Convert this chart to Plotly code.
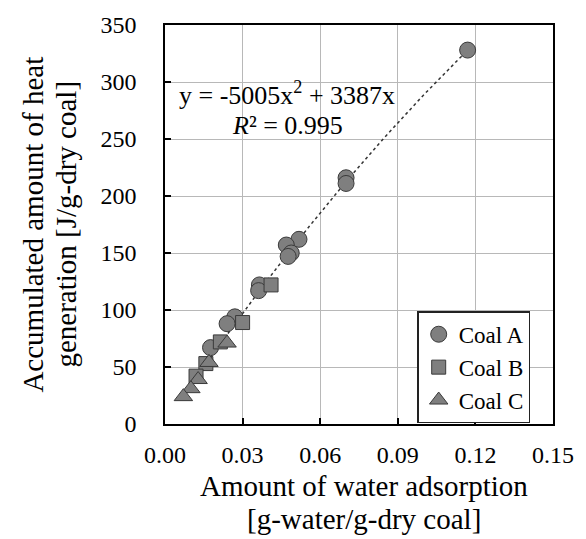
import numpy as np
import plotly.graph_objects as go

# Data
coal_a_x = [0.117, 0.070, 0.070, 0.0518, 0.0469, 0.0488, 0.0476, 0.0365, 0.0362, 0.027, 0.024, 0.0176]
coal_a_y = [328, 216, 211, 162, 157, 150, 147, 122, 117, 94, 88, 67]
coal_b_x = [0.041, 0.030, 0.0214, 0.0158, 0.012]
coal_b_y = [122, 89, 72, 53, 42]
coal_c_x = [0.024, 0.017, 0.0128, 0.010, 0.0071]
coal_c_y = [71, 54, 39, 31, 24]

fit_a2 = -5005
fit_a1 = 3387
fit_r2 = 0.995
fit_xmin, fit_xmax = 0.007, 0.117

x_ticks = [0.00, 0.03, 0.06, 0.09, 0.12, 0.15]
y_ticks = [0, 50, 100, 150, 200, 250, 300, 350]

FONT = "Liberation Serif"
FILL = "#7f7f7f"
EDGE = "#3a3a3a"

fx = np.linspace(fit_xmin, fit_xmax, 100)
fy = fit_a2 * fx**2 + fit_a1 * fx

fig = go.Figure()
fig.add_trace(go.Scatter(x=fx, y=fy, mode="lines", showlegend=False,
                         line=dict(color="#333333", width=1.5, dash="dot"),
                         hoverinfo="skip"))
fig.add_trace(go.Scatter(x=coal_a_x, y=coal_a_y, mode="markers", name="Coal A",
                         marker=dict(symbol="circle", size=16, color=FILL,
                                     line=dict(color=EDGE, width=1))))
fig.add_trace(go.Scatter(x=coal_b_x, y=coal_b_y, mode="markers", name="Coal B",
                         marker=dict(symbol="square", size=14, color=FILL,
                                     line=dict(color=EDGE, width=1))))
fig.add_trace(go.Scatter(x=coal_c_x, y=coal_c_y, mode="markers", name="Coal C",
                         marker=dict(symbol="triangle-up", size=16, color=FILL,
                                     line=dict(color=EDGE, width=1))))

axis_common = dict(showgrid=True, gridcolor="#b8b8b8", gridwidth=1,
                   showline=True, linecolor="black", linewidth=1.5, mirror=True,
                   ticks="inside", ticklen=6, tickcolor="black", tickwidth=1.5,
                   zeroline=False,
                   tickfont=dict(family=FONT, size=24, color="black"))

fig.update_xaxes(range=[0, 0.15], tickvals=x_ticks,
                 ticktext=[f"{v:.2f}" for v in x_ticks],
                 ticklabelstandoff=8, **axis_common)
fig.update_yaxes(range=[0, 350], tickvals=y_ticks,
                 ticktext=[str(v) for v in y_ticks],
                 ticklabelstandoff=22, **axis_common)

ann = []
title_font = dict(family=FONT, size=29, color="black")
ann.append(dict(text="Amount of water adsorption", xref="paper", yref="paper",
                x=(370 - 165) / 400, y=(424 - 486) / 400, xanchor="center", yanchor="middle",
                showarrow=False, font=title_font))
ann.append(dict(text="[g-water/g-dry coal]", xref="paper", yref="paper",
                x=(370 - 165) / 400, y=(424 - 519) / 400, xanchor="center", yanchor="middle",
                showarrow=False, font=title_font))
ann.append(dict(text="Accumulated amount of heat", xref="paper", yref="paper",
                x=(28 - 165) / 400, y=0.5, xanchor="center", yanchor="middle",
                textangle=-90, showarrow=False, font=title_font))
ann.append(dict(text="generation [J/g-dry coal]", xref="paper", yref="paper",
                x=(62 - 165) / 400, y=0.5, xanchor="center", yanchor="middle",
                textangle=-90, showarrow=False, font=title_font))
eq_font = dict(family=FONT, size=26, color="black")
ann.append(dict(text=f"y = {fit_a2}x<sup>2</sup> + {fit_a1}x", x=0.04725, y=289.6,
                xref="x", yref="y", xanchor="center", yanchor="middle",
                showarrow=False, font=eq_font))
ann.append(dict(text=f"<i>R</i>² = {fit_r2}", x=0.04725, y=261.6,
                xref="x", yref="y", xanchor="center", yanchor="middle",
                showarrow=False, font=eq_font))

fig.update_layout(
    width=586, height=539,
    margin=dict(l=165, r=21, t=24, b=115),
    paper_bgcolor="white", plot_bgcolor="white",
    font=dict(family=FONT, color="black"),
    annotations=ann,
    legend=dict(x=(425 - 165) / 400, y=(424 - 311) / 400, xanchor="left", yanchor="top",
                bgcolor="white", bordercolor="#222222", borderwidth=1.5,
                font=dict(family=FONT, size=23, color="black"),
                tracegroupgap=0, itemwidth=30),
)

fig.write_html("out.html")
